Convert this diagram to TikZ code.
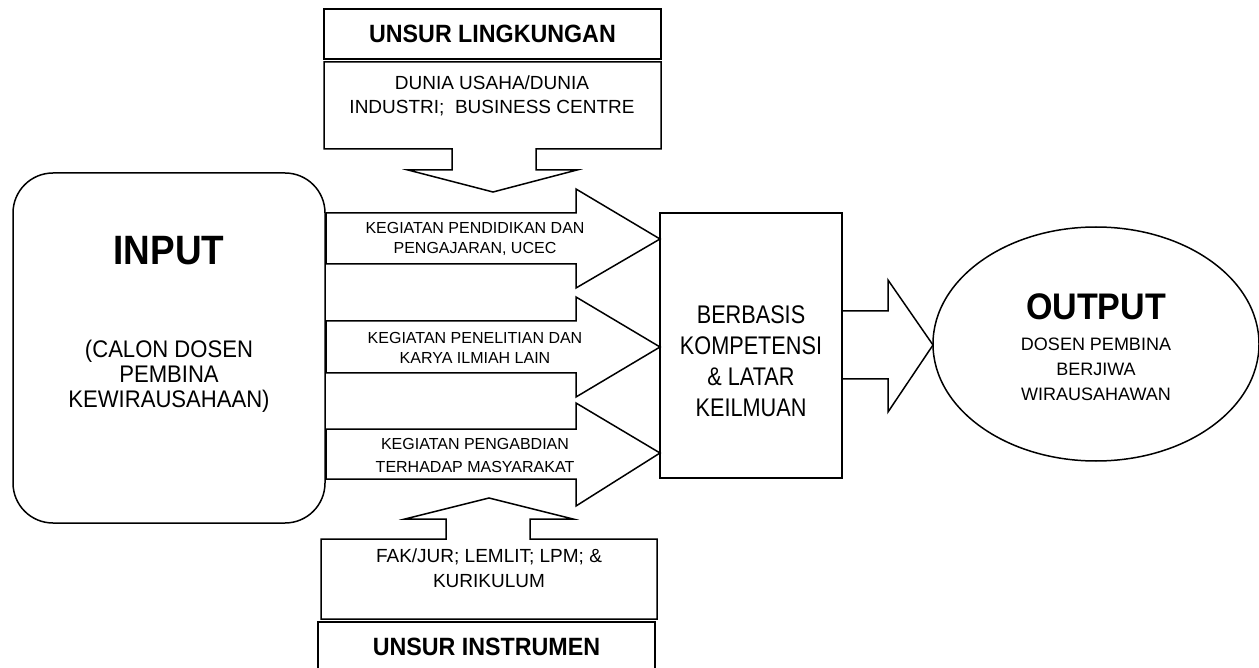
\documentclass[tikz,border=0pt]{standalone}
\usepackage{fontspec}
\usepackage{graphicx}
\setmainfont{Liberation Sans}
\usetikzlibrary{shapes.geometric}

% narrower, taller lettering
\newcommand{\narrow}[2][0.88]{\scalebox{#1}[1]{\begin{tabular}{@{}c@{}}#2\end{tabular}}}

\begin{document}
\begin{tikzpicture}[x=1pt, y=-1pt, line width=1.5pt,
    box/.style={draw, inner sep=0pt},
    txt/.style={align=center, inner sep=0pt},
    tiny/.style={font=\fontsize{16}{20}\selectfont},
    mid/.style={font=\fontsize{19}{24}\selectfont},
    head/.style={font=\bfseries\fontsize{25}{28}\selectfont}]

    % Page frame
    \clip (0,0) rectangle (1259,668);

    % Input
    \node[box, rounded corners=40pt, minimum width=312pt, minimum height=350pt] (input) at (169,348) {};
    \node[txt, font=\bfseries\fontsize{41}{44}\selectfont] (inputtitle) at (169,256) {\narrow[0.9]{INPUT}};
    \node[txt, font=\fontsize{24}{25}\selectfont] (inputtext) at (169,378) {\narrow[0.92]{(CALON DOSEN\\PEMBINA\\KEWIRAUSAHAAN)}};

    % Three activity arrows
    \draw (326,213) -- (576,213) -- (576,189) -- (660,239) -- (576,288) -- (576,264) -- (326,264) -- cycle;
    \node[txt, tiny] (didik) at (475,239) {KEGIATAN PENDIDIKAN DAN\\PENGAJARAN, UCEC};

    \draw (326,321) -- (576,321) -- (576,297) -- (660,347) -- (576,397) -- (576,373) -- (326,373) -- cycle;
    \node[txt, tiny] (teliti) at (475,348) {KEGIATAN PENELITIAN DAN\\KARYA ILMIAH LAIN};

    \draw (326,429) -- (576,429) -- (576,403) -- (660,453) -- (576,506) -- (576,479) -- (326,479) -- cycle;
    \node[txt, font=\fontsize{16}{23}\selectfont] (abdi) at (475,455) {KEGIATAN PENGABDIAN\\TERHADAP MASYARAKAT};

    % Competence block
    \node[box, minimum width=182pt, minimum height=265pt] (core) at (751,345.5) {};
    \node[txt, font=\fontsize{25.5}{31}\selectfont] (coretext) at (751,364) {\narrow[0.85]{BERBASIS\\KOMPETENSI\\\& LATAR\\KEILMUAN}};

    % Arrow to output
    \draw (core.east |- 0,311) -- (888,311) -- (888,280) -- (933,345) -- (888,412) -- (888,379) -- (core.east |- 0,379);

    % Output
    \node[box, ellipse, minimum width=326pt, minimum height=234pt] (output) at (1096,344) {};
    \node[txt, font=\bfseries\fontsize{37}{40}\selectfont] (outputtitle) at (1096,312) {\narrow[0.92]{OUTPUT}};
    \node[txt, font=\fontsize{18}{25}\selectfont] (outputtext) at (1096,369) {DOSEN PEMBINA\\BERJIWA\\WIRAUSAHAWAN};

    % Environment (top)
    \node[box, head, minimum width=337pt, minimum height=50pt] (lingtitle) at (492.5,34) {\scalebox{0.93}[1]{UNSUR LINGKUNGAN}};
    \draw (324,62) -- (661,62) -- (661,149) -- (536,149) -- (536,170) -- (577,170) -- (493,192)
        -- (408,170) -- (452,170) -- (452,149) -- (324,149) -- cycle;
    \node[txt, mid] (lingtext) at (492,96) {DUNIA USAHA/DUNIA\\INDUSTRI;\ \ BUSINESS CENTRE};

    % Instruments (bottom)
    \draw (321,619) -- (657,619) -- (657,539) -- (530,539) -- (530,519) -- (573,519) -- (489,498)
        -- (405,519) -- (446,519) -- (446,539) -- (321,539) -- cycle;
    \node[txt, font=\fontsize{19}{25}\selectfont] (instrtext) at (489,568) {FAK/JUR; LEMLIT; LPM; \&\\KURIKULUM};
    \node[box, head, minimum width=337pt, minimum height=50pt] (instrtitle) at (486.5,647) {\scalebox{0.93}[1]{UNSUR INSTRUMEN}};

\end{tikzpicture}
\end{document}
